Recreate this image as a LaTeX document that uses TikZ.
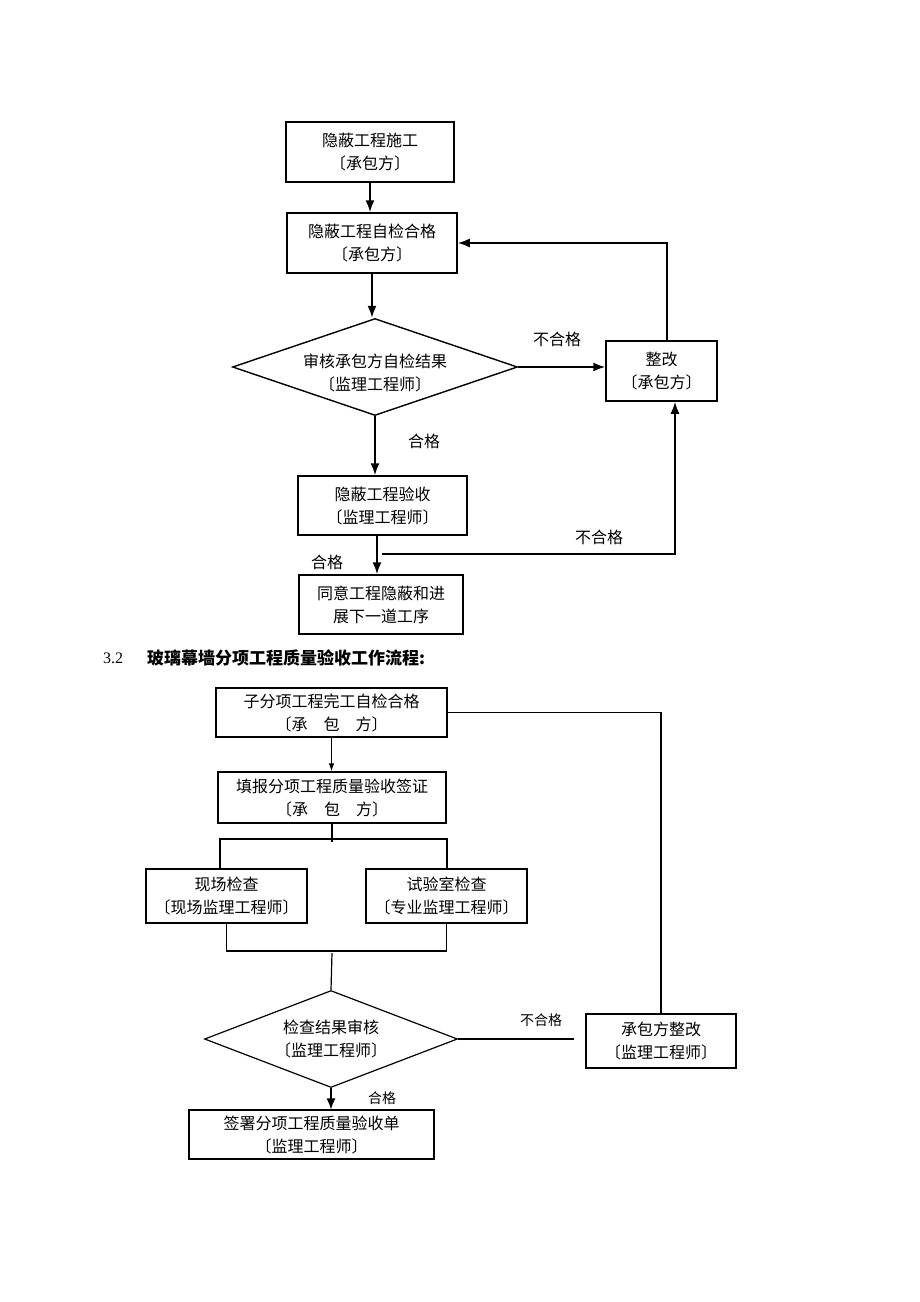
\documentclass[tikz,border=0pt]{standalone}
\usepackage{fontspec}
\setmainfont{Liberation Serif}
\newfontfamily\cjk{Noto Sans CJK SC}[RawFeature=+halt]
\usetikzlibrary{shapes.geometric,arrows.meta}
\begin{document}
\begin{tikzpicture}[x=1pt,y=-1pt,
 every node/.style={font=\cjk\fontsize{16}{23}\selectfont, align=center, inner sep=0pt},
 box/.style={draw, line width=1.5pt, rectangle},
 boxb/.style={draw, line width=1.2pt, rectangle},
 dia/.style={draw, diamond, line width=1.4pt},
 arr/.style={line width=1.8pt, -{Latex[length=12pt,width=9pt]}},
 ln/.style={line width=1.2pt},
 arrs/.style={line width=1.2pt, -{Latex[length=8pt,width=5.5pt]}},
 arrb/.style={line width=1.3pt, -{Latex[length=11pt,width=9pt]}},
 lbl/.style={font=\cjk\fontsize{16}{18}\selectfont},
 slbl/.style={font=\cjk\fontsize{14}{16}\selectfont}]
\fill[white] (0,0) rectangle (920,1302);
\useasboundingbox (0,0) rectangle (920,1302);

% ---------- top chart ----------
\node[box, minimum width=168, minimum height=60] (b1) at (370,152) {隐蔽工程施工\\〔承包方〕};
\node[box, minimum width=170, minimum height=60] (b2) at (372,243) {隐蔽工程自检合格\\〔承包方〕};
\node[dia, minimum width=285, minimum height=97, shape aspect=2.94] (d1) at (375,367) {};
\node (d1t) at (375,373) {审核承包方自检结果\\〔监理工程师〕};
\node[box, minimum width=111, minimum height=60] (g) at (661.5,371) {整改\\〔承包方〕};
\node[box, minimum width=169, minimum height=59] (b3) at (382.5,505.5) {隐蔽工程验收\\〔监理工程师〕};
\node[box, minimum width=164, minimum height=59] (b4) at (381,604.5) {同意工程隐蔽和进\\展下一道工序};

\draw[arr] (b1.south) -- (b1.south |- b2.north);
\draw[arr] (b2.south) -- (b2.south |- d1.north);
\draw[arr] (d1.east) -- (d1.east -| g.west);
\node[lbl] (l1) at (557,339) {不合格};
\draw[arr] ([xshift=5.5]g.north) |- (b2.east);
\draw[arr] (d1.south) -- (d1.south |- b3.north);
\node[lbl] (l2) at (424,441) {合格};
\draw[arr] ([xshift=-5.5]b3.south) -- ([xshift=-4]b4.north);
\node[lbl] (l3) at (327,562) {合格};
\coordinate (fb) at (382,554);
\draw[arr] (fb) -| ([xshift=13.5]g.south);
\node[lbl] (l4) at (599,537) {不合格};

% ---------- heading ----------
\node[anchor=west, font=\fontsize{16}{18}\selectfont] (h1) at (103,658) {3.2};
\node[anchor=west, font=\cjk\bfseries\fontsize{17}{18}\selectfont] (h2) at (147,658) {玻璃幕墙分项工程质量验收工作流程:};

% ---------- bottom chart ----------
\node[boxb, minimum width=231, minimum height=49] (A) at (331.5,712.5) {子分项工程完工自检合格\\〔承　包　方〕};
\node[boxb, minimum width=228, minimum height=51] (B) at (332,797.5) {填报分项工程质量验收签证\\〔承　包　方〕};
\node[boxb, minimum width=161, minimum height=54] (C) at (226.5,896) {现场检查\\〔现场监理工程师〕};
\node[boxb, minimum width=161, minimum height=54] (D) at (446.5,896) {试验室检查\\〔专业监理工程师〕};
\node[boxb, diamond, minimum width=253, minimum height=97, shape aspect=2.6] (d2) at (331,1039) {检查结果审核\\〔监理工程师〕};
\node[boxb, minimum width=245, minimum height=49] (E) at (311.5,1134.5) {签署分项工程质量验收单\\〔监理工程师〕};
\node[boxb, minimum width=150, minimum height=54] (F) at (661,1041) {承包方整改\\〔监理工程师〕};

\draw[arrs] (A.south) -- (A.south |- B.north);
\coordinate (j1) at (332,842);
\draw[ln] (B.south) -- (j1);
\coordinate (sL) at (220,839);
\coordinate (sR) at (447,839);
\draw[ln] (C.north -| sL) -- (sL) -- (sR) -- (D.north -| sR);
\coordinate (jn) at (0,951);
\draw[ln] (C.south) -- (C.south |- jn) -- (D.south |- jn) -- (D.south);
\coordinate (j2) at (332,953);
\draw[ln] (j2) -- (d2.north);
\draw[arrb] (d2.south) -- (d2.south |- E.north);
\node[slbl] (l5) at (382,1098) {合格};
\draw[ln] (d2.east) -- ([xshift=-11]d2.east -| F.west);
\node[slbl] (l6) at (541,1020) {不合格};
\draw[ln] (F.north) |- (A.east);
\end{tikzpicture}
\end{document}
